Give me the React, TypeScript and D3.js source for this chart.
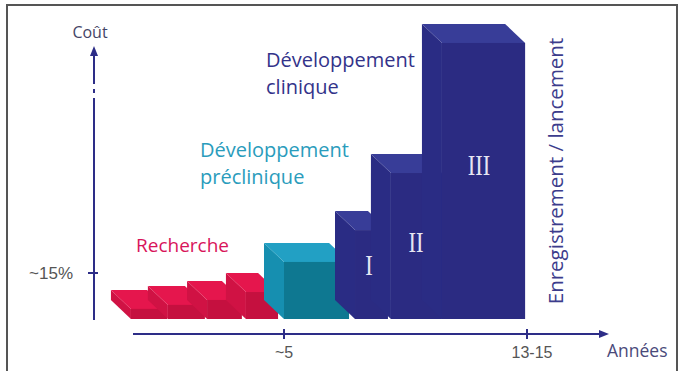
import React from "react";
import * as d3 from "d3";

// ---- data ----
const stageNames = ["R1", "R2", "R3", "R4", "Préclinique", "I", "II", "III"];
const stagePhase = ["research", "research", "research", "research", "preclinical", "clinical", "clinical", "clinical"];
const stageStart = [-0.67, 0.7, 2.15, 3.59, 5.0, 7.63, 8.96, 10.85]; // years
const stageEnd = [0.67, 2.07, 3.44, 4.78, 7.41, 8.85, 10.85, 13.93];
const stageCost = [3.3, 4.6, 6.2, 8.8, 18.6, 29.0, 47.6, 90.0]; // relative cost
const romanLabels = ["", "", "", "", "", "I", "II", "III"];
const xTickValues = [5, 14];
const xTickLabels = ["~5", "13-15"];
const yTickValues = [15];
const yTickLabels = ["~15%"];

const W = 680;
const H = 371;
const AXIS = "#2d2d87";
const DX = 20;
const DY = 19;

const faces: Record<string, { top: string; left: string; front: string }> = {
  research: { top: "#e5164d", left: "#d01244", front: "#c5103f" },
  preclinical: { top: "#22a0c4", left: "#168fb0", front: "#0e7891" },
  clinical: { top: "#383d98", left: "#2a2c84", front: "#2b2b82" },
};

export default function App() {
  const x = d3.scaleLinear().domain([0, 14]).range([149, 527]);
  const y = d3.scaleLinear().domain([0, 100]).range([319, 319 - 306.7]);
  const y0 = y(0);

  const boxes = stageNames.map((name, i) => {
    const xf0 = x(stageStart[i]);
    const xf1 = x(stageEnd[i]);
    const yf = y(stageCost[i]);
    const xb0 = xf0 - DX;
    const xb1 = xf1 - DX;
    const yb = yf - DY;
    const c = faces[stagePhase[i]];
    const pts = (a: number[][]) => a.map((p) => p.join(",")).join(" ");
    return (
      <g key={name}>
        <polygon points={pts([[xb0, yb], [xf0, yf], [xf0, y0], [xb0, y0 - DY]])} fill={c.left} />
        <polygon points={pts([[xb0, yb], [xb1, yb], [xf1, yf], [xf0, yf]])} fill={c.top} />
        <rect x={xf0} y={yf} width={xf1 - xf0} height={y0 - yf} fill={c.front} />
      </g>
    );
  });

  const romanPos: Record<string, [number, number]> = { I: [369, 264], II: [416, 241], III: [479, 164] };

  const axisX = 94;
  const xAxisY = 334;
  const sans = "'Open Sans', 'Noto Sans', sans-serif";
  const arial = "'Liberation Sans', Arial, sans-serif";

  return (
    <svg
      width={W}
      height={H}
      style={{ position: "fixed", left: 0, top: 0, background: "#fff" }}
    >
      <rect x={0} y={0} width={W} height={H} fill="#fff" />
      <rect x={7} y={5} width={670} height={372} fill="none" stroke="#555" strokeWidth={2} />

      {/* y axis with break */}
      <line x1={axisX} x2={axisX} y1={53} y2={84} stroke={AXIS} strokeWidth={2} />
      <line x1={axisX} x2={axisX} y1={89} y2={93} stroke={AXIS} strokeWidth={2} />
      <line x1={axisX} x2={axisX} y1={98} y2={320} stroke={AXIS} strokeWidth={2} />
      <polygon points={`${axisX},46 ${axisX - 4},56 ${axisX + 4},56`} fill={AXIS} />
      {yTickValues.map((v, i) => (
        <g key={v}>
          <line x1={axisX - 6} x2={axisX + 4} y1={y(v)} y2={y(v)} stroke={AXIS} strokeWidth={2} />
          <text x={73} y={y(v)} dy="0.35em" textAnchor="end" fontFamily={arial} fontSize={17} fill="#555">
            {yTickLabels[i]}
          </text>
        </g>
      ))}
      <text x={90} y={32} dy="0.35em" textAnchor="middle" fontFamily={sans} fontSize={16} fill="#444466">
        Coût
      </text>

      {/* x axis */}
      <line x1={133} x2={603} y1={xAxisY} y2={xAxisY} stroke={AXIS} strokeWidth={2} />
      <polygon points={`609,${xAxisY} 599,${xAxisY - 4} 599,${xAxisY + 4}`} fill={AXIS} />
      {xTickValues.map((v, i) => (
        <g key={v}>
          <line x1={x(v)} x2={x(v)} y1={xAxisY - 5} y2={xAxisY + 5} stroke={AXIS} strokeWidth={2} />
          <text x={x(v) + (i === 1 ? 5 : 0)} y={352} dy="0.35em" textAnchor="middle" fontFamily={arial} fontSize={16} fill="#555">
            {xTickLabels[i]}
          </text>
        </g>
      ))}
      <text x={607} y={351} dy="0.35em" fontFamily={sans} fontSize={17.5} fill="#4a4a7a">
        Années
      </text>

      {/* bars */}
      {boxes}
      {stageNames.map((name, i) => {
        const r = romanLabels[i];
        if (!r) return null;
        const [cx, cy] = romanPos[r];
        return (
          <text
            key={"r" + name}
            transform={`translate(${cx},${cy}) scale(0.75,1)`}
            dy="0.35em"
            textAnchor="middle"
            fontFamily="'Liberation Serif', 'DejaVu Serif', serif"
            fontSize={30}
            fill="#e6e6f2"
          >
            {r}
          </text>
        );
      })}

      {/* phase labels */}
      <text fontFamily={sans} fontSize={20} fill="#33338a">
        <tspan x={266} y={67}>Développement</tspan>
        <tspan x={266} y={94}>clinique</tspan>
      </text>
      <text fontFamily={sans} fontSize={20} fill="#2a9cbc">
        <tspan x={200} y={157}>Développement</tspan>
        <tspan x={200} y={184}>préclinique</tspan>
      </text>
      <text x={136} y={252} fontFamily={sans} fontSize={19} fill="#d8145a">
        Recherche
      </text>
      <text
        transform="translate(563,171) rotate(-90)"
        textAnchor="middle"
        fontFamily={sans}
        fontSize={20.5}
        fill="#3c3c8c"
      >
        Enregistrement / lancement
      </text>
    </svg>
  );
}
